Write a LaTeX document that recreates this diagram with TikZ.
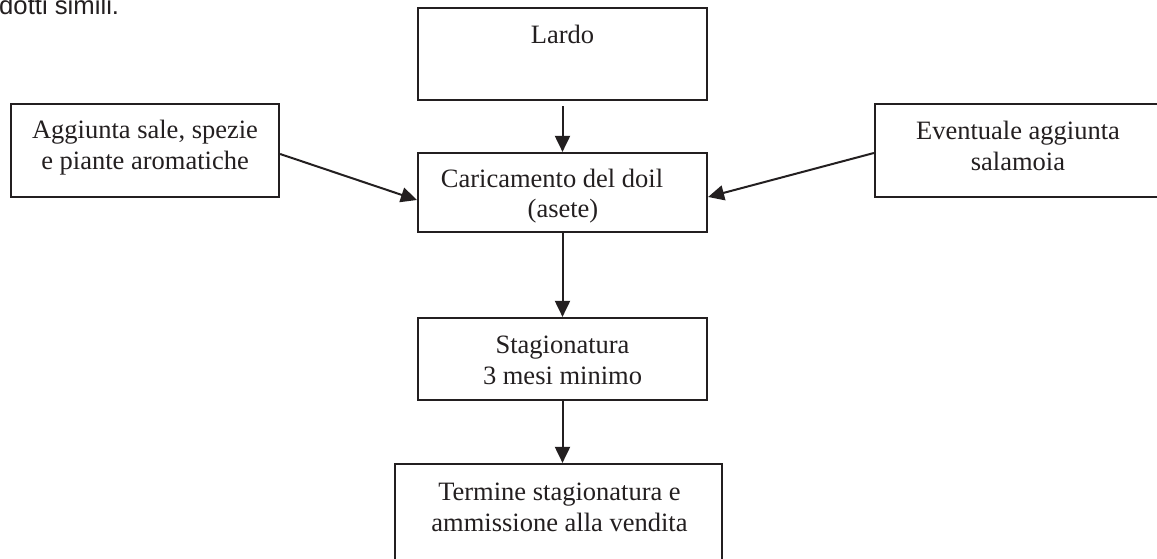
\documentclass[tikz,border=0pt]{standalone}
\usepackage{fontspec}
\setmainfont{Liberation Serif}
\newfontfamily\arialfont{Liberation Sans}
\usetikzlibrary{arrows.meta,calc}
\definecolor{ink}{HTML}{231F20}
\begin{document}
\begin{tikzpicture}[x=1pt,y=-1pt,
  box/.style={draw=ink, line width=2.2pt, inner sep=0pt, rectangle},
  txt/.style={inner sep=0pt, anchor=base, text=ink, font=\fontsize{26.5}{31}\selectfont},
  arr/.style={draw=ink, line width=2pt, -{Triangle[length=16pt,width=15pt]}}]
\useasboundingbox (0,0) rectangle (1157,559);
\clip (0,0) rectangle (1157,559);
\fill[white] (0,0) rectangle (1157,559);
% fragment of text at top left
\node[anchor=base west, inner sep=0pt, text=ink, font=\arialfont\fontsize{25.7}{30}\selectfont] (note) at (-1,15) {dotti simili.};
% boxes
\node[box, minimum width=289pt, minimum height=92pt] (lardo) at (562.5,54) {};
\node[box, minimum width=289pt, minimum height=79pt] (car) at (562.5,192.5) {};
\node[box, minimum width=268pt, minimum height=93pt] (left) at (145,150.5) {};
\node[box, minimum width=286pt, minimum height=93pt] (right) at (1018,150.5) {};
\node[box, minimum width=289pt, minimum height=82pt] (stag) at (562.5,359) {};
\node[box, minimum width=327pt, minimum height=112pt] (term) at (558.5,520) {};
% texts
\node[txt] (t1) at (562.5,44) {Lardo};
\node[txt] (t2a) at (552,187) {Caricamento del doil};
\node[txt] (t2b) at (563,218) {(asete)};
\node[txt] (t3a) at (145,139) {Aggiunta sale, spezie};
\node[txt] (t3b) at (145,170) {e piante aromatiche};
\node[txt] (t4a) at (1018,139.5) {Eventuale aggiunta};
\node[txt] (t4b) at (1018,170.5) {salamoia};
\node[txt] (t5a) at (562.5,353) {Stagionatura};
\node[txt] (t5b) at (562.5,384) {3 mesi minimo};
\node[txt] (t6a) at (559.5,500) {Termine stagionatura e};
\node[txt] (t6b) at (559.5,531) {ammissione alla vendita};
% connectors
\draw[arr, shorten <=5pt] (lardo) -- (car);
\draw[arr] (car) -- (stag);
\draw[arr] (stag.south) -- (stag.south |- term.north);
\draw[arr] ($(left.east)+(0,3.5)$) -- ($(car.west)+(0,7.5)$);
\draw[arr] ($(right.west)+(0,2.5)$) -- ($(car.east)+(0,4.5)$);
\end{tikzpicture}
\end{document}
